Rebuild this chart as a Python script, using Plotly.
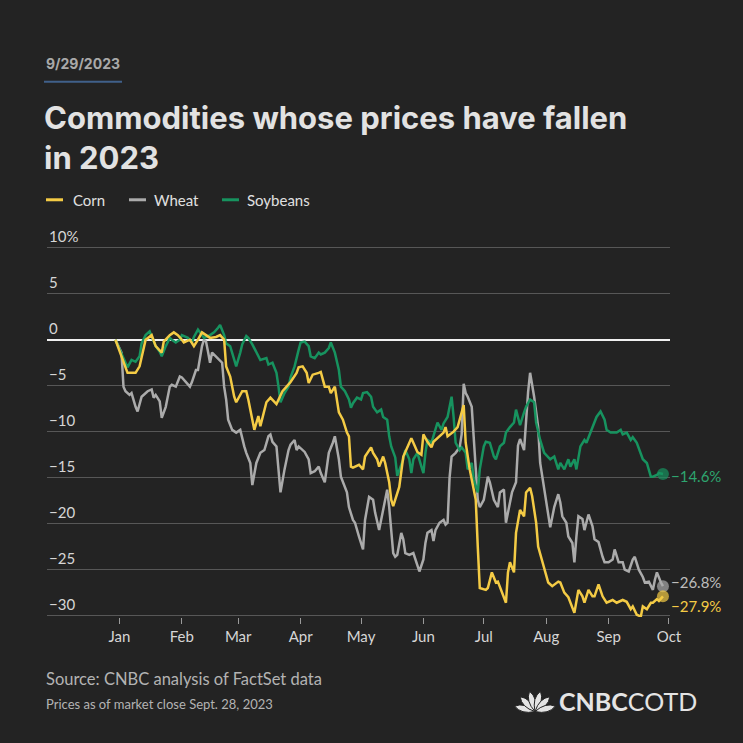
import math
import plotly.graph_objects as go

# ---------------- data (percent change since end of 2022) ----------------
corn_dates = ["2022-12-30","2023-01-04","2023-01-05","2023-01-09","2023-01-11","2023-01-14","2023-01-17","2023-01-19","2023-01-22","2023-01-23",
"2023-01-26","2023-01-28","2023-01-30","2023-02-01","2023-02-02","2023-02-05","2023-02-07","2023-02-09","2023-02-11","2023-02-13",
"2023-02-15","2023-02-18","2023-02-20","2023-02-22","2023-02-23","2023-02-25","2023-02-27","2023-02-28","2023-03-03","2023-03-05",
"2023-03-06","2023-03-08","2023-03-09","2023-03-11","2023-03-12","2023-03-15","2023-03-17","2023-03-20","2023-03-21","2023-03-23",
"2023-03-25","2023-03-27","2023-03-30","2023-03-31","2023-04-02","2023-04-04","2023-04-05","2023-04-07","2023-04-10","2023-04-11",
"2023-04-13","2023-04-15","2023-04-16","2023-04-18","2023-04-20","2023-04-22","2023-04-24","2023-04-25","2023-04-26","2023-04-27",
"2023-04-30","2023-05-02","2023-05-03","2023-05-06","2023-05-07","2023-05-09","2023-05-10","2023-05-12","2023-05-13","2023-05-15",
"2023-05-16","2023-05-17","2023-05-18","2023-05-20","2023-05-22","2023-05-24","2023-05-26","2023-05-27","2023-05-29","2023-05-31",
"2023-06-01","2023-06-03","2023-06-05","2023-06-06","2023-06-08","2023-06-11","2023-06-12","2023-06-13","2023-06-16","2023-06-18",
"2023-06-21","2023-06-22","2023-06-24","2023-06-27","2023-06-28","2023-06-29","2023-07-02","2023-07-03","2023-07-05","2023-07-07",
"2023-07-08","2023-07-10","2023-07-12","2023-07-13","2023-07-14","2023-07-16","2023-07-17","2023-07-19","2023-07-21","2023-07-22",
"2023-07-24","2023-07-25","2023-07-27","2023-07-28","2023-07-31","2023-08-02","2023-08-04","2023-08-07","2023-08-08","2023-08-10",
"2023-08-12","2023-08-14","2023-08-15","2023-08-17","2023-08-19","2023-08-20","2023-08-22","2023-08-24","2023-08-25","2023-08-27",
"2023-08-29","2023-08-31","2023-09-03","2023-09-05","2023-09-08","2023-09-10","2023-09-12","2023-09-13","2023-09-15","2023-09-17",
"2023-09-18","2023-09-20","2023-09-22","2023-09-23","2023-09-25","2023-09-26","2023-09-28"]
corn_values = [0,-2.9,-3.6,-3.6,-2.9,0,0.5,-0.7,-1.4,-0.2,
0.5,0.8,0.5,0,-0.3,0,-0.7,0,0.8,0.5,
0.2,0.3,0.5,0,-2.9,-4,-6.2,-6.8,-5.6,-5.6,
-6.5,-8.7,-9.8,-8.3,-9.4,-6.8,-6.3,-7,-6.5,-5.6,
-5.1,-4.6,-3.6,-3,-2.9,-3.6,-4.7,-3.8,-3.6,-3.5,
-5.1,-5.1,-5.8,-5.1,-7.9,-8.7,-10.1,-10.5,-13.8,-13.9,
-13.6,-14.1,-12.7,-11.7,-12.3,-13,-13.8,-12.7,-13.4,-15.5,
-17.4,-18.1,-17.4,-16,-12.7,-11.6,-10.7,-11.2,-12.2,-12.5,
-10.3,-11.1,-11.7,-11.1,-10.7,-10.1,-9.5,-10.5,-10,-9.5,
-7.1,-11.2,-14.1,-17.4,-22.5,-27,-27.2,-27,-25.3,-26.4,
-26.3,-27.5,-28.6,-25.3,-24.2,-25.3,-21,-18.5,-19.2,-16.6,
-16.1,-17,-19.9,-22.5,-24.7,-26.4,-26.8,-26.3,-26.4,-27.5,
-28,-29,-29.7,-27.2,-27.9,-28.6,-27.2,-27.9,-27.9,-26.6,
-27.9,-28.6,-28.3,-28.6,-28.3,-28.5,-29.3,-29,-29.9,-30.1,
-29,-29.3,-28.6,-28.6,-28.2,-28.4,-27.9]

wheat_dates = ["2022-12-30","2023-01-02","2023-01-03","2023-01-04","2023-01-06","2023-01-07","2023-01-09","2023-01-10","2023-01-12","2023-01-13",
"2023-01-15","2023-01-17","2023-01-18","2023-01-19","2023-01-21","2023-01-22","2023-01-24","2023-01-26","2023-01-27","2023-01-29",
"2023-01-31","2023-02-01","2023-02-03","2023-02-05","2023-02-06","2023-02-08","2023-02-09","2023-02-11","2023-02-12","2023-02-13",
"2023-02-14","2023-02-15","2023-02-16","2023-02-18","2023-02-21","2023-02-22","2023-02-23","2023-02-24","2023-02-26","2023-02-28",
"2023-03-02","2023-03-04","2023-03-05","2023-03-07","2023-03-08","2023-03-10","2023-03-12","2023-03-14","2023-03-16","2023-03-17",
"2023-03-18","2023-03-20","2023-03-21","2023-03-22","2023-03-24","2023-03-26","2023-03-27","2023-03-29","2023-03-30","2023-03-31",
"2023-04-03","2023-04-05","2023-04-06","2023-04-08","2023-04-10","2023-04-11","2023-04-13","2023-04-14","2023-04-15","2023-04-17",
"2023-04-18","2023-04-20","2023-04-21","2023-04-24","2023-04-25","2023-04-27","2023-04-28","2023-04-30","2023-05-02","2023-05-03",
"2023-05-05","2023-05-07","2023-05-08","2023-05-10","2023-05-12","2023-05-13","2023-05-14","2023-05-15","2023-05-17","2023-05-18",
"2023-05-19","2023-05-21","2023-05-22","2023-05-23","2023-05-25","2023-05-27","2023-05-28","2023-05-30","2023-06-01","2023-06-02",
"2023-06-03","2023-06-05","2023-06-06","2023-06-07","2023-06-09","2023-06-11","2023-06-12","2023-06-13","2023-06-14","2023-06-15",
"2023-06-17","2023-06-19","2023-06-20","2023-06-21","2023-06-22","2023-06-23","2023-06-25","2023-06-27","2023-06-28","2023-06-29",
"2023-07-01","2023-07-03","2023-07-04","2023-07-06","2023-07-08","2023-07-09","2023-07-11","2023-07-12","2023-07-13","2023-07-15",
"2023-07-17","2023-07-18","2023-07-19","2023-07-21","2023-07-23","2023-07-24","2023-07-26","2023-07-28","2023-07-29","2023-07-31",
"2023-08-02","2023-08-03","2023-08-05","2023-08-07","2023-08-08","2023-08-09","2023-08-11","2023-08-12","2023-08-14","2023-08-15",
"2023-08-16","2023-08-17","2023-08-19","2023-08-20","2023-08-22","2023-08-24","2023-08-25","2023-08-27","2023-08-29","2023-08-30",
"2023-09-01","2023-09-03","2023-09-04","2023-09-06","2023-09-08","2023-09-09","2023-09-11","2023-09-13","2023-09-14","2023-09-16",
"2023-09-18","2023-09-19","2023-09-21","2023-09-23","2023-09-24","2023-09-25","2023-09-27","2023-09-28"]
wheat_values = [0,-1.4,-5.1,-5.6,-6,-5.8,-7.3,-7.8,-6.2,-6,
-5.6,-5.4,-6.3,-6,-6.7,-8.5,-7.3,-5.1,-4.9,-5.1,
-4,-4.1,-4.6,-5.1,-4.6,-3.3,-3.3,-0.7,0,-0.2,
-1.3,-2.5,-1.4,-1.8,-2.5,-5.1,-6.5,-8.7,-9.8,-10.1,
-9.8,-11.6,-12.3,-13.4,-15.8,-13.4,-12.3,-12,-10.5,-10.3,
-11.1,-11.6,-14.1,-16.6,-14.1,-12,-11.4,-10.9,-12,-11.6,
-12.2,-13,-14.5,-14.3,-13.8,-14.5,-15.5,-13.8,-12.3,-11.2,
-10.5,-13,-14.9,-16.6,-18.2,-19.6,-19.9,-21.4,-22.8,-19.6,
-17.1,-17.4,-18.8,-20.7,-18.5,-17.4,-16.3,-18.2,-23.2,-23.6,
-23.4,-21,-21.7,-23.2,-23.4,-23.2,-23.9,-25.2,-23.9,-22.1,
-21,-20.7,-21.9,-20.7,-19.9,-19.6,-20.1,-19.9,-15,-12.7,
-12.3,-11.7,-10.3,-4.8,-5.8,-6.2,-7.3,-13.8,-17.4,-18.2,
-17.4,-14.9,-15.5,-17.4,-18.2,-16.6,-16.3,-19.9,-18.8,-16.6,
-15.5,-11.5,-10.8,-12,-5.7,-3.6,-6.2,-9.5,-13.4,-16.3,
-18.8,-20.4,-18.2,-16.8,-17.7,-19.2,-19.9,-21.4,-22.1,-24.2,
-21.4,-19.2,-19.5,-20.7,-19,-20.3,-21.7,-22,-23.6,-24.2,
-24.2,-23.9,-22.8,-24.2,-24.2,-25,-25.2,-23.9,-23.6,-25,
-25.8,-26.4,-26.3,-27.2,-26.1,-25.3,-26.4,-26.8]

soy_dates = ["2022-12-30","2023-01-02","2023-01-04","2023-01-05","2023-01-07","2023-01-09","2023-01-11","2023-01-12","2023-01-14","2023-01-16",
"2023-01-17","2023-01-19","2023-01-21","2023-01-22","2023-01-24","2023-01-26","2023-01-27","2023-01-29","2023-01-31","2023-02-01",
"2023-02-04","2023-02-06","2023-02-07","2023-02-09","2023-02-11","2023-02-12","2023-02-15","2023-02-17","2023-02-19","2023-02-20",
"2023-02-22","2023-02-23","2023-02-25","2023-02-27","2023-02-28","2023-03-02","2023-03-03","2023-03-05","2023-03-06","2023-03-08",
"2023-03-10","2023-03-12","2023-03-15","2023-03-16","2023-03-18","2023-03-20","2023-03-21","2023-03-22","2023-03-24","2023-03-26",
"2023-03-27","2023-03-29","2023-03-31","2023-04-01","2023-04-03","2023-04-05","2023-04-06","2023-04-08","2023-04-10","2023-04-11",
"2023-04-13","2023-04-15","2023-04-16","2023-04-18","2023-04-20","2023-04-21","2023-04-23","2023-04-25","2023-04-26","2023-04-27",
"2023-04-29","2023-05-01","2023-05-02","2023-05-04","2023-05-06","2023-05-07","2023-05-09","2023-05-11","2023-05-12","2023-05-14",
"2023-05-15","2023-05-16","2023-05-18","2023-05-19","2023-05-22","2023-05-23","2023-05-25","2023-05-26","2023-05-27","2023-05-29",
"2023-05-31","2023-06-01","2023-06-02","2023-06-03","2023-06-05","2023-06-06","2023-06-08","2023-06-10","2023-06-11","2023-06-13",
"2023-06-15","2023-06-16","2023-06-17","2023-06-19","2023-06-20","2023-06-22","2023-06-23","2023-06-25","2023-06-26","2023-06-28",
"2023-06-29","2023-07-01","2023-07-02","2023-07-04","2023-07-06","2023-07-07","2023-07-09","2023-07-11","2023-07-12","2023-07-14",
"2023-07-16","2023-07-17","2023-07-19","2023-07-21","2023-07-22","2023-07-24","2023-07-26","2023-07-27","2023-07-29","2023-07-31",
"2023-08-02","2023-08-03","2023-08-05","2023-08-07","2023-08-08","2023-08-10","2023-08-12","2023-08-13","2023-08-15","2023-08-16",
"2023-08-18","2023-08-20","2023-08-21","2023-08-23","2023-08-25","2023-08-26","2023-08-28","2023-08-30","2023-08-31","2023-09-02",
"2023-09-05","2023-09-07","2023-09-08","2023-09-10","2023-09-12","2023-09-13","2023-09-15","2023-09-17","2023-09-18","2023-09-20",
"2023-09-22","2023-09-23","2023-09-25","2023-09-26","2023-09-28"]
soy_values = [0,-1.4,-2.5,-3.0,-2.2,-2.4,-1.8,-0.4,0.5,0.9,
0.3,-0.7,-1.3,-1.8,-0.7,0.2,0,-0.3,0,0.5,
0.2,-0.3,0.3,1.1,0.5,0.2,0.5,0.8,1.3,1.6,
0.5,-0.4,-0.7,-2.2,-2.9,-1.4,-0.5,0.4,0.2,-0.5,
-1.4,-2.2,-2.0,-2.7,-2.5,-3.6,-5.1,-6.8,-5.8,-5.1,
-4.1,-2.9,-1.1,-0.3,-0.2,-0.7,-1.8,-2.0,-1.4,-1.6,
-1.4,-0.9,-0.3,-1.4,-3.3,-5.1,-5.6,-6.5,-7.4,-6.9,
-6.3,-6.5,-5.8,-5.7,-6.2,-7.3,-7.9,-7.6,-8.4,-8.7,
-10.5,-11.6,-12.8,-14.8,-13,-12,-13,-14.5,-13,-12.3,
-13.8,-14.5,-12.3,-10.9,-11.2,-10.5,-9.0,-9.8,-9.1,-8.4,
-6.2,-8.4,-11.2,-12,-11.7,-12.3,-14.1,-13.4,-15.2,-16.6,
-14.1,-11.6,-11.1,-11.2,-12.7,-13,-11.6,-11.2,-10.1,-9.5,
-9,-7.6,-9.3,-7.9,-7.3,-6.5,-6.8,-9,-10.9,-12.3,
-12.7,-13,-12.7,-14.1,-13.4,-14.1,-13,-13.8,-13.0,-14.1,
-11.6,-10.9,-11.2,-10.1,-9,-8.4,-7.8,-8.7,-9.8,-10.1,
-10.1,-9.8,-10.3,-10.1,-10.9,-10.6,-11.2,-12.3,-13,-13.4,
-14.9,-14.9,-14.7,-14.5,-14.6]

series_names = ["Corn", "Wheat", "Soybeans"]
month_ticks = ["2023-01-01","2023-02-01","2023-03-01","2023-04-01","2023-05-01","2023-06-01",
               "2023-07-01","2023-08-01","2023-09-01","2023-10-01"]
month_labels = ["Jan","Feb","Mar","Apr","May","Jun","Jul","Aug","Sep","Oct"]
y_ticks = [10, 5, 0, -5, -10, -15, -20, -25, -30]
y_tick_labels = ["10%", "5", "0", "\u22125", "\u221210", "\u221215", "\u221220", "\u221225", "\u221230"]

# ---------------- style ----------------
BG = "#232323"
FONT = "Lato"
TFONT = "Inter"
colors = {"Corn": "#F4CB45", "Wheat": "#ABABAB", "Soybeans": "#17935F"}
label_colors = {"Corn": "#F4CB45", "Wheat": "#BDBDBD", "Soybeans": "#2EA56F"}
W = H = 743
L, R = 47, 670
YMIN, YMAX = -30.15, 10.3
PX_PER = 9.2
TOP = 248 - (YMAX - 10) * PX_PER
BOT = TOP + (YMAX - YMIN) * PX_PER

def px(x):
    return (x - L) / (R - L)

def py(y):
    return (BOT - y) / (BOT - TOP)

data = {
    "Corn": (corn_dates, corn_values),
    "Wheat": (wheat_dates, wheat_values),
    "Soybeans": (soy_dates, soy_values),
}

fig = go.Figure()
for name in ["Wheat", "Soybeans", "Corn"]:
    d, v = data[name]
    fig.add_trace(go.Scatter(x=d, y=v, mode="lines", name=name,
                             line=dict(color=colors[name], width=2.5),
                             hoverinfo="skip", showlegend=False))
for name in ["Soybeans", "Wheat", "Corn"]:
    d, v = data[name]
    fig.add_trace(go.Scatter(x=[d[-1]], y=[v[-1]], mode="markers",
                             marker=dict(color=colors[name], size=12, opacity=0.7),
                             hoverinfo="skip", showlegend=False, cliponaxis=False))

annotations = []
# y tick labels above grid lines
for val, lab in zip(y_ticks, y_tick_labels):
    annotations.append(dict(x=0, xref="paper", y=val, yref="y", text=lab, showarrow=False,
                            xanchor="left", yanchor="bottom", yshift=1,
                            font=dict(family=FONT, size=15, color="#d6d6d6")))
# end labels
shifts = {"Soybeans": -2, "Wheat": 4, "Corn": -10}
for name in series_names:
    d, v = data[name]
    txt = ("\u2212" if v[-1] < 0 else "") + f"{abs(v[-1]):.1f}%"
    annotations.append(dict(x=d[-1], y=v[-1], xref="x", yref="y", text=txt, showarrow=False,
                            xanchor="left", yanchor="middle", xshift=6, yshift=shifts[name],
                            font=dict(family=FONT, size=15, color=label_colors[name])))

# header texts
annotations.append(dict(x=px(44), y=py(64), xref="paper", yref="paper", text="<b>9/29/2023</b>",
                        showarrow=False, xanchor="left", yanchor="middle",
                        font=dict(family=TFONT, size=14, color="#a9a9a9")))
annotations.append(dict(x=px(42), y=py(97), xref="paper", yref="paper",
                        text="<b>Commodities whose prices have fallen<br>in 2023</b>",
                        showarrow=False, xanchor="left", yanchor="top", align="left",
                        font=dict(family=TFONT, size=31, color="#e2e2e2")))
# legend
leg_pos = {"Corn": (46, 71), "Wheat": (129, 152), "Soybeans": (222, 245)}
shapes = []
for name in series_names:
    lx, tx = leg_pos[name]
    shapes.append(dict(type="line", xref="paper", yref="paper", x0=px(lx), x1=px(lx + 17),
                       y0=py(200), y1=py(200), line=dict(color=colors[name], width=3)))
    annotations.append(dict(x=px(tx), y=py(200), xref="paper", yref="paper", text=name,
                            showarrow=False, xanchor="left", yanchor="middle",
                            font=dict(family=FONT, size=15, color="#e0e0e0")))
# date underline
shapes.append(dict(type="line", xref="paper", yref="paper", x0=px(44), x1=px(122),
                   y0=py(82), y1=py(82), line=dict(color="#40608a", width=2)))

# footer
annotations.append(dict(x=px(44), y=py(679), xref="paper", yref="paper",
                        text="Source: CNBC analysis of FactSet data", showarrow=False,
                        xanchor="left", yanchor="middle",
                        font=dict(family=FONT, size=16.5, color="#b3b3b3")))
annotations.append(dict(x=px(44), y=py(704), xref="paper", yref="paper",
                        text="Prices as of market close Sept. 28, 2023", showarrow=False,
                        xanchor="left", yanchor="middle",
                        font=dict(family=FONT, size=13, color="#b3b3b3")))
# logo text
annotations.append(dict(x=px(557), y=py(701), xref="paper", yref="paper",
                        text="<b>CNBC</b>COTD", showarrow=False,
                        xanchor="left", yanchor="middle",
                        font=dict(family=FONT, size=25, color="#e4e4e4")))
# peacock feathers
cx, cy = 535, 712
for i in range(6):
    ang = math.radians(165 - i * 30)
    r = 21
    tipx, tipy = cx + r * math.cos(ang), cy - r * math.sin(ang)
    w = 6.5
    nx, ny = -math.sin(ang), -math.cos(ang)
    mx, my = cx + 0.6 * r * math.cos(ang), cy - 0.6 * r * math.sin(ang)
    p1 = (mx + nx * w, my + ny * w)
    p2 = (mx - nx * w, my - ny * w)
    path = (f"M {px(cx)} {py(cy)} Q {px(p1[0])} {py(p1[1])} {px(tipx)} {py(tipy)} "
            f"Q {px(p2[0])} {py(p2[1])} {px(cx)} {py(cy)} Z")
    shapes.append(dict(type="path", xref="paper", yref="paper", path=path,
                       fillcolor="#e4e4e4", line=dict(color=BG, width=1)))

fig.update_layout(
    width=W, height=H,
    margin=dict(l=L, r=W - R, t=TOP, b=H - BOT),
    paper_bgcolor=BG, plot_bgcolor=BG,
    showlegend=False,
    annotations=annotations,
    shapes=shapes,
    xaxis=dict(type="date", range=["2022-11-26", "2023-10-01 12:00"],
               tickvals=month_ticks, ticktext=month_labels,
               ticks="outside", ticklen=6, tickcolor="#9a9a9a", tickwidth=1,
               showgrid=False, showline=False, zeroline=False,
               tickfont=dict(family=FONT, size=15, color="#d6d6d6")),
    yaxis=dict(range=[YMIN, YMAX], tickvals=y_ticks, showticklabels=False,
               showgrid=True, gridcolor="#575757", gridwidth=1,
               zeroline=True, zerolinecolor="#f0f0f0", zerolinewidth=1.6,
               showline=False, ticks=""),
    hovermode=False,
)

fig.write_html("out.html")
